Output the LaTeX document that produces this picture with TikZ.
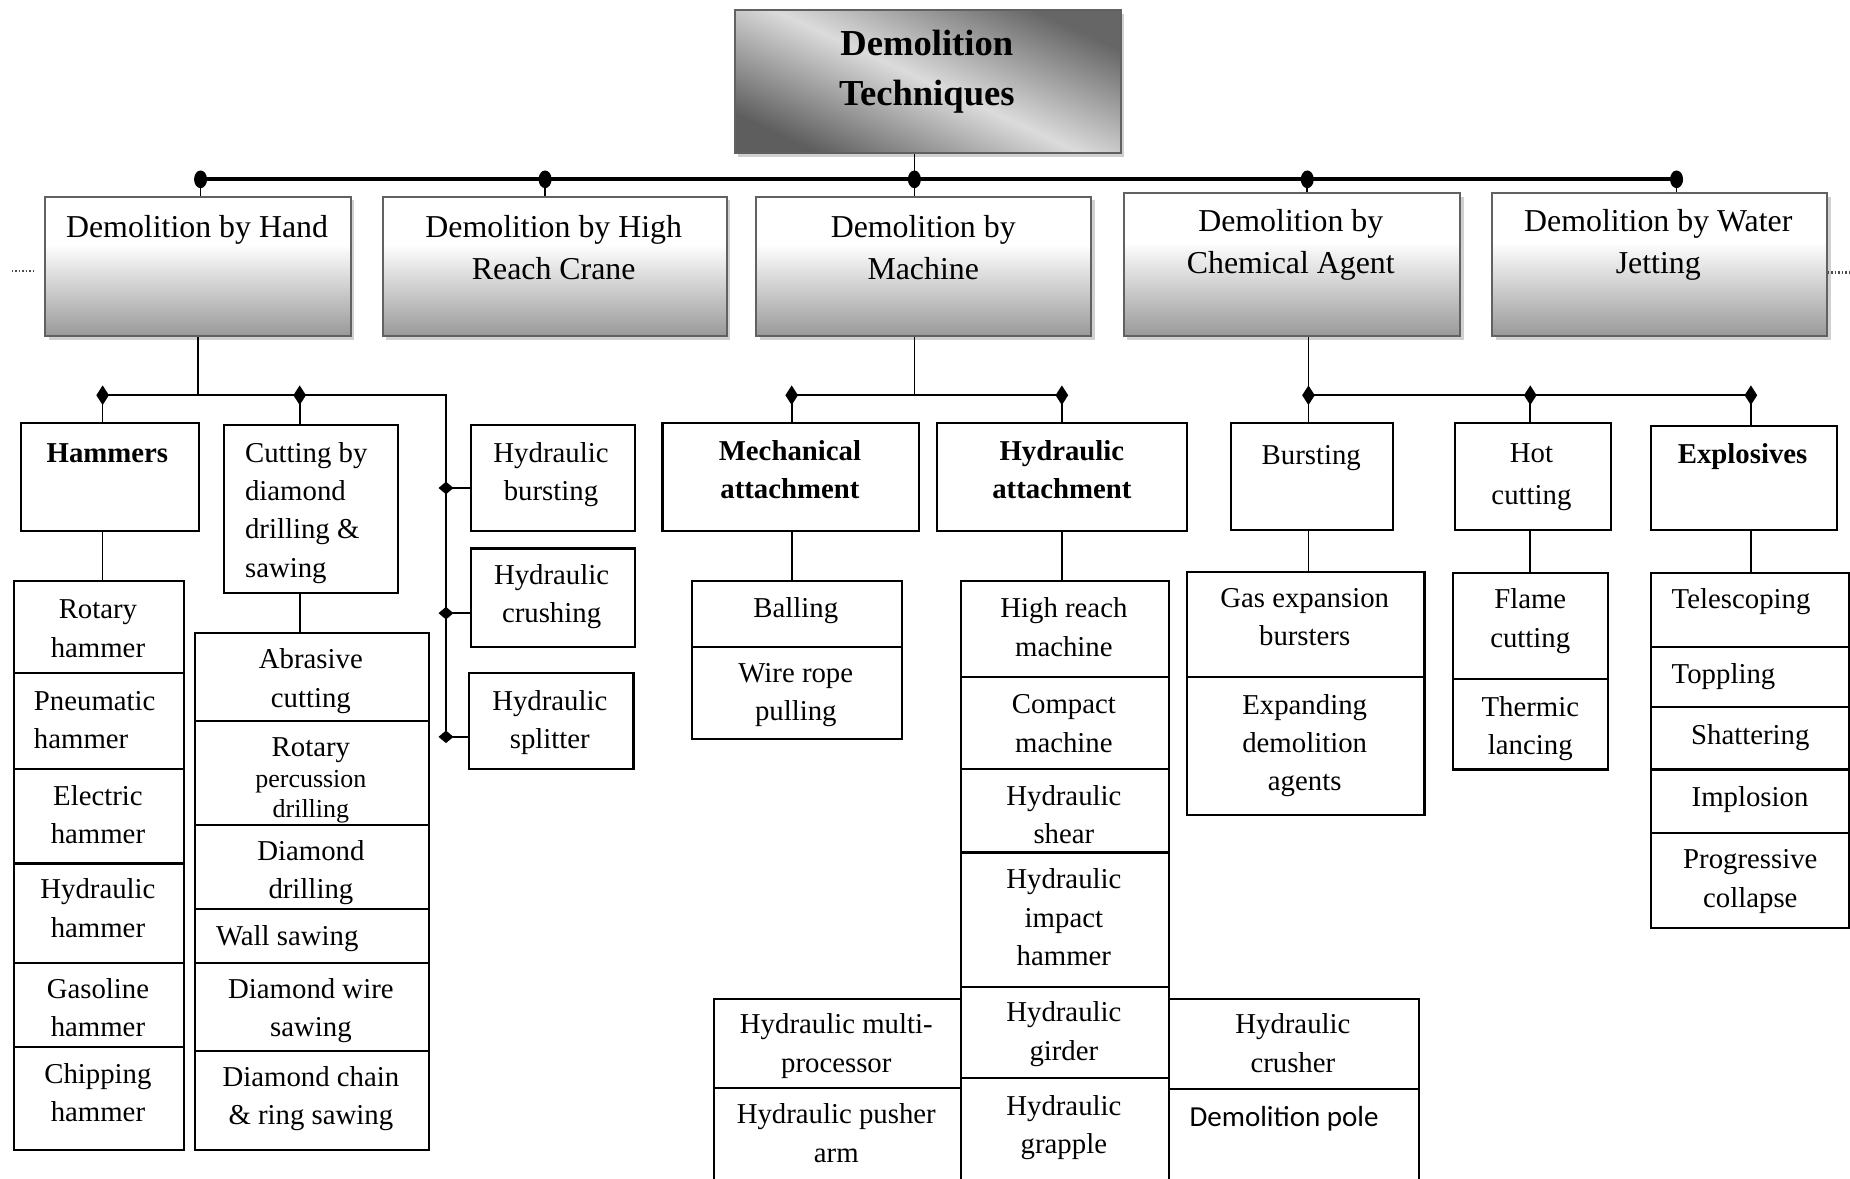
\documentclass[tikz,border=0pt]{standalone}
\usepackage{fontspec}
\setmainfont{Liberation Serif}
\newfontfamily\carlito{Carlito}
\usetikzlibrary{shapes.geometric,shadows}
\pgfdeclareverticalshading{lvlone}{100bp}{color(0bp)=(black!40); color(25bp)=(black!40); color(58bp)=(white); color(100bp)=(white)}
\newcommand\bx[6]{\node[#6, minimum width={(#4-#2)*0.5pt}, minimum height={(#5-#3)*0.5pt}] (#1) at (#2,#3) {};}
\begin{document}
\begin{tikzpicture}[x=0.5pt,y=-0.5pt,
  box/.style={draw=black, line width=0.9pt, rectangle, inner sep=0pt, anchor=north west},
  topbox/.style={draw=black!62, line width=0.8pt, rectangle, inner sep=0pt, anchor=north west,
     shade, shading=lvlone,
     drop shadow={shadow xshift=1.5pt, shadow yshift=-1.5pt, fill=black!30, opacity=0.6}},
  ttlbox/.style={draw=black!62, line width=0.8pt, rectangle, inner sep=0pt, anchor=north west,
     shade, shading=axis, top color=black!60, bottom color=black!63, middle color=black!14, shading angle=-25,
     drop shadow={shadow xshift=1.5pt, shadow yshift=-1.5pt, fill=black!30, opacity=0.6}},
  tx/.style={inner sep=0pt, align=center, anchor=north, font=\fontsize{12.2}{16.25}\selectfont},
  txl/.style={tx, align=left, anchor=north west},
  txb/.style={tx, font=\fontsize{12.2}{16.25}\selectfont\bfseries},
  txs/.style={inner sep=0pt, align=center, anchor=north, font=\fontsize{11}{12.5}\selectfont},
  tt/.style={inner sep=0pt, align=center, anchor=north, font=\fontsize{13.5}{17.8}\selectfont},
  ttl/.style={inner sep=0pt, align=center, anchor=north, font=\fontsize{15.5}{21.2}\selectfont\bfseries},
  conn/.style={line width=0.7pt},
  bar/.style={line width=1.8pt},
  mkt/.style={ellipse, fill=black, inner sep=0pt, minimum width=5.5pt, minimum height=7.5pt},
  mk/.style={diamond, fill=black, inner sep=0pt, minimum width=5.5pt, minimum height=8.5pt},
  mkh/.style={diamond, fill=black, inner sep=0pt, minimum width=6.5pt, minimum height=5.5pt},
  dots/.style={line width=0.9pt, black!70, dash pattern=on 0.6pt off 0.9pt}]
\useasboundingbox (0,0) rectangle (1568,999);
\clip (0,0) rectangle (1568,999);
\fill[white] (0,0) rectangle (1568,999);

% title and first level
\bx{ttl}{622}{8}{949}{129}{ttlbox}
\bx{hand}{37.5}{166}{296.5}{284}{topbox}
\bx{crane}{323.5}{166}{615}{284}{topbox}
\bx{machine}{640}{166}{924}{284}{topbox}
\bx{chem}{951.5}{163}{1236.6}{284}{topbox}
\bx{water}{1264}{163}{1548}{284}{topbox}

% markers
\node[mkt] (t1) at (170,152) {};
\node[mkt] (t2) at (462,152) {};
\node[mkt] (t3) at (775,152) {};
\node[mkt] (t4) at (1108,152) {};
\node[mkt] (t5) at (1421,152) {};
\node[mk] (m-ham) at (87,335) {};
\node[mk] (m-cut) at (254,335) {};
\coordinate (hcorner) at (378,335);
\node[mkh] (m-hb) at (378,413.6) {};
\node[mkh] (m-hc) at (378,519.7) {};
\node[mkh] (m-hs) at (378,624.5) {};
\node[mk] (m-mech) at (671,335) {};
\node[mk] (m-hyda) at (900,335) {};
\node[mk] (m-bst) at (1109,335) {};
\node[mk] (m-hot) at (1297,335) {};
\node[mk] (m-exp) at (1484,335) {};

% second level boxes
\bx{hammers}{17}{357.4}{167.6}{449}{box}
\bx{cutdia}{189}{359.6}{336.6}{501.4}{box}
\bx{hburst}{398}{359.6}{537.3}{449}{box}
\bx{hcrush}{398}{464}{537.5}{547.5}{box}
\bx{hsplit}{396.5}{569.8}{536}{651}{box}
\bx{mech}{560.6}{357.4}{778}{449}{box}
\bx{hyda}{793}{357.4}{1005}{449}{box}
\bx{burst}{1042.4}{357.6}{1179.7}{448.6}{box}
\bx{hot}{1232.2}{357.6}{1364.5}{448.6}{box}
\bx{expl}{1398.3}{359.8}{1556}{448.6}{box}

% hammer column
\bx{rot}{10.6}{491.5}{155}{569.2}{box}
\bx{pneu}{10.6}{569.2}{155}{651}{box}
\bx{elec}{10.6}{651}{155}{731}{box}
\bx{hydh}{10.6}{731}{155}{815.5}{box}
\bx{gas}{10.6}{815.5}{155}{886.5}{box}
\bx{chip}{10.6}{886.5}{155}{974}{box}
% cutting column
\bx{abr}{164.6}{535.3}{362.5}{610.2}{box}
\bx{rpd}{164.6}{610.2}{362.5}{698.3}{box}
\bx{ddr}{164.6}{698.3}{362.5}{769.2}{box}
\bx{wall}{164.6}{769.2}{362.5}{815}{box}
\bx{dwire}{164.6}{815}{362.5}{889.8}{box}
\bx{dchain}{164.6}{889.8}{362.5}{974}{box}
% mechanical column
\bx{ball}{585.8}{491.5}{763.3}{547.2}{box}
\bx{wire}{585.8}{547.2}{763.3}{625.7}{box}
% hydraulic column
\bx{hrm}{813.6}{491.5}{990}{572.6}{box}
\bx{comp}{813.6}{572.6}{990}{651.2}{box}
\bx{shear}{813.6}{651.2}{990}{721.7}{box}
\bx{impact}{813.6}{721.7}{990}{835.3}{box}
\bx{girder}{813.6}{835.3}{990}{913}{box}
\bx{grapple}{813.6}{913}{990}{1003}{box}
\bx{multi}{604.2}{846}{813.6}{921.5}{box}
\bx{pusher}{604.2}{921.5}{813.6}{1003}{box}
\bx{crusher}{990}{846}{1201.5}{922.4}{box}
\bx{pole}{990}{922.4}{1201.5}{1003}{box}
% chemical columns
\bx{gasexp}{1005}{484}{1206.4}{573.2}{box}
\bx{expand}{1005}{573.2}{1206.4}{689.8}{box}
\bx{flame}{1230.5}{484.6}{1362.2}{574.7}{box}
\bx{therm}{1230.5}{574.7}{1362.2}{651.3}{box}
\bx{tele}{1398.3}{484.6}{1566}{547.5}{box}
\bx{topp}{1398.3}{547.5}{1566}{598}{box}
\bx{shat}{1398.3}{598}{1566}{651.3}{box}
\bx{impl}{1398.3}{651.3}{1566}{704.9}{box}
\bx{prog}{1398.3}{704.9}{1566}{786}{box}

% connectors
\draw[bar] (t1.center) -- (t5.center);
\draw[conn] (t3.center |- ttl.south) -- (t3.center);
\draw[conn] (t1.center) -- (t1.center |- hand.north);
\draw[conn] (t2.center) -- (t2.center |- crane.north);
\draw[conn] (t3.center) -- (t3.center |- machine.north);
\draw[conn] (t4.center) -- (t4.center |- chem.north);
\draw[conn] (t5.center) -- (t5.center |- water.north);

\draw[conn] (hand.south) -- (hand.south |- m-ham.center);
\draw[conn] (m-ham.center) -- (hcorner) -- (m-hs.center);
\draw[conn] (m-ham.center) -- (m-ham.center |- hammers.north);
\draw[conn] (m-cut.center) -- (m-cut.center |- cutdia.north);
\draw[conn] (m-hb.center) -- (m-hb.center -| hburst.west);
\draw[conn] (m-hc.center) -- (m-hc.center -| hcrush.west);
\draw[conn] (m-hs.center) -- (m-hs.center -| hsplit.west);
\draw[conn] (m-ham.center |- hammers.south) -- (m-ham.center |- rot.north);
\draw[conn] (m-cut.center |- cutdia.south) -- (m-cut.center |- abr.north);

\draw[conn] (t3.center |- machine.south) -- (t3.center |- m-mech.center);
\draw[conn] (m-mech.center) -- (m-hyda.center);
\draw[conn] (m-mech.center) -- (m-mech.center |- mech.north);
\draw[conn] (m-hyda.center) -- (m-hyda.center |- hyda.north);
\draw[conn] (m-mech.center |- mech.south) -- (m-mech.center |- ball.north);
\draw[conn] (m-hyda.center |- hyda.south) -- (m-hyda.center |- hrm.north);

\draw[conn] (m-bst.center |- chem.south) -- (m-bst.center);
\draw[conn] (m-bst.center) -- (m-exp.center);
\draw[conn] (m-bst.center) -- (m-bst.center |- burst.north);
\draw[conn] (m-hot.center) -- (m-hot.center |- hot.north);
\draw[conn] (m-exp.center) -- (m-exp.center |- expl.north);
\draw[conn] (m-bst.center |- burst.south) -- (m-bst.center |- gasexp.north);
\draw[conn] (m-hot.center |- hot.south) -- (m-hot.center |- flame.north);
\draw[conn] (m-exp.center |- expl.south) -- (m-exp.center |- tele.north);

% small dotted marks at the sides
\coordinate (dl1) at (10,230); \coordinate (dl2) at (29,230);
\coordinate (dr1) at (1549,231); \coordinate (dr2) at (1568,231);
\draw[dots] (dl1) -- (dl2);
\draw[dots] (dr1) -- (dr2);

% texts
\node[ttl] (ttl-t) at (785.5,16.9) {\strut Demolition\\Techniques};
\node[tt] (hand-t) at (167,176.1) {\strut Demolition by Hand};
\node[tt] (crane-t) at (469.3,175.7) {\strut Demolition by High\\Reach Crane};
\node[tt] (machine-t) at (782.5,175.7) {\strut Demolition by\\Machine};
\node[tt] (chem-t) at (1094,171.1) {\strut Demolition by\\Chemical Agent};
\node[tt] (water-t) at (1405.5,171.1) {\strut Demolition by Water\\Jetting};

\node[txb] (hammers-t) at (91,369.25) {\strut Hammers};
\node[txl] (cutdia-t) at (207.3,368.55) {\strut Cutting by\\diamond\\drilling \&\\sawing};
\node[tx] (hburst-t) at (467,368.55) {\strut Hydraulic\\bursting};
\node[tx] (hcrush-t) at (467.5,472.25) {\strut Hydraulic\\crushing};
\node[tx] (hsplit-t) at (466,578.95) {\strut Hydraulic\\splitter};

\node[tx] (rot-t) at (83,501.25) {\strut Rotary\\hammer};
\node[txl] (pneu-t) at (28.4,578.95) {\strut Pneumatic\\hammer};
\node[tx] (elec-t) at (83,659.25) {\strut Electric\\hammer};
\node[tx] (hydh-t) at (83,738.55) {\strut Hydraulic\\hammer};
\node[tx] (gas-t) at (83,823.25) {\strut Gasoline\\hammer};
\node[tx] (chip-t) at (83,895.25) {\strut Chipping\\hammer};

\node[tx] (abr-t) at (263.5,543.65) {\strut Abrasive\\cutting};
\node[tx] (rpd-t) at (263.5,618.45) {\strut Rotary};
\node[txs] (rpd-s) at (263.5,649.8) {\strut percussion\\drilling};
\node[tx] (ddr-t) at (263.5,706.05) {\strut Diamond\\drilling};
\node[txl] (wall-t) at (182.7,778.05) {\strut Wall sawing};
\node[tx] (dwire-t) at (263.5,823.25) {\strut Diamond wire\\sawing};
\node[tx] (dchain-t) at (263.5,897.55) {\strut Diamond chain\\\& ring sawing};

\node[txb] (mech-t) at (669.5,367.05) {\strut Mechanical\\attachment};
\node[txb] (hyda-t) at (900,367.05) {\strut Hydraulic\\attachment};
\node[tx] (ball-t) at (674.5,500.45) {\strut Balling};
\node[tx] (wire-t) at (674.5,554.95) {\strut Wire rope\\pulling};
\node[tx] (hrm-t) at (901.7,500.45) {\strut High reach\\machine};
\node[tx] (comp-t) at (901.7,581.75) {\strut Compact\\machine};
\node[tx] (shear-t) at (901.7,659.45) {\strut Hydraulic\\shear};
\node[tx] (impact-t) at (901.7,730.05) {\strut Hydraulic\\impact\\hammer};
\node[tx] (girder-t) at (901.7,843.05) {\strut Hydraulic\\girder};
\node[tx] (grapple-t) at (901.7,922.25) {\strut Hydraulic\\grapple};
\node[tx] (multi-t) at (708.8,852.95) {\strut Hydraulic multi-\\processor};
\node[tx] (pusher-t) at (708.8,929.25) {\strut Hydraulic pusher\\arm};
\node[tx] (crusher-t) at (1095.8,852.95) {\strut Hydraulic\\crusher};
\node[inner sep=0pt, anchor=base west, font=\carlito\fontsize{12.3}{15}\selectfont] (pole-t) at (1007.8,954.8) {Demolition pole};

\node[tx] (burst-t) at (1111.4,370.45) {\strut Bursting};
\node[tx] (hot-t) at (1298,368.75) {\strut Hot\\[1.7pt]cutting};
\node[txb] (expl-t) at (1477,369.55) {\strut Explosives};
\node[tx] (gasexp-t) at (1105.8,491.45) {\strut Gas expansion\\bursters};
\node[tx] (expand-t) at (1105.8,582.25) {\strut Expanding\\demolition\\agents};
\node[tx] (flame-t) at (1297,492.95) {\strut Flame\\cutting};
\node[tx] (therm-t) at (1297,583.75) {\strut Thermic\\lancing};
\node[txl] (tele-t) at (1416.5,492.95) {\strut Telescoping};
\node[txl] (topp-t) at (1416.5,555.95) {\strut Toppling};
\node[tx] (shat-t) at (1483.5,608.05) {\strut Shattering};
\node[tx] (impl-t) at (1483.3,660.05) {\strut Implosion};
\node[tx] (prog-t) at (1483.5,713.35) {\strut Progressive\\collapse};
\end{tikzpicture}
\end{document}
